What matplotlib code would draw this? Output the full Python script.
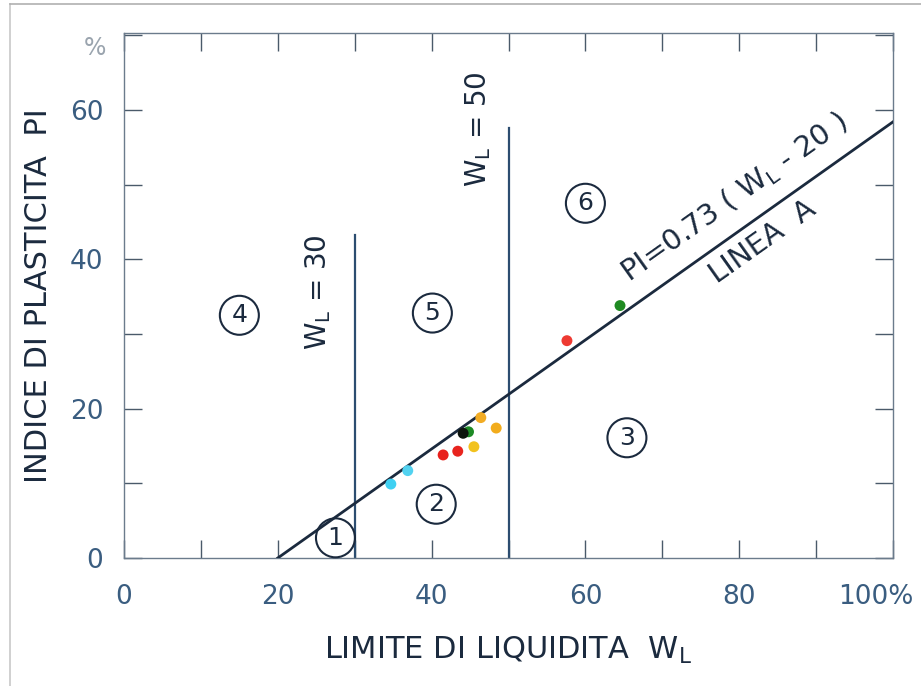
import numpy as np
import matplotlib
matplotlib.use("Agg")
import matplotlib.pyplot as plt
from matplotlib.lines import Line2D
from matplotlib.transforms import ScaledTranslation

plt.rcParams['font.family'] = ['DejaVu Sans']
plt.rcParams['mathtext.default'] = 'regular'

# ---- data ----
aline_x = [20, 100]
aline_slope = 0.73
aline_offset = 20
wl30_top = 43.2
wl50_top = 57.6

pt_x = [34.7, 36.9, 41.5, 43.4, 45.5, 44.8, 44.1, 46.4, 48.4, 57.6, 64.5]
pt_y = [9.9, 11.7, 13.8, 14.3, 14.9, 16.9, 16.7, 18.8, 17.4, 29.1, 33.8]
pt_c = ['#3fd0f2', '#52d2f0', '#e8201c', '#e8241e', '#f2c21e', '#1d8a25',
        '#0c140c', '#f2ac24', '#f2ac1c', '#ee3a32', '#1f8a22']

zone_labels = ['1', '2', '3', '4', '5', '6']
zone_x = [27.5, 40.6, 65.4, 15.0, 40.1, 60.0]
zone_y = [2.7, 7.2, 16.1, 32.5, 32.8, 47.5]

x_ticks = [0, 20, 40, 60, 80, 100]
x_ticklabels = ['0', '20', '40', '60', '80', '100%']
y_ticks = [0, 20, 40, 60]
y_ticklabels = ['0', '20', '40', '60']

navy = '#1b2a3e'
blue = '#2c4d70'
tickc = '#3a5d80'

fig = plt.figure(figsize=(9.21, 6.86), dpi=100)
ax = fig.add_axes([124/921, 1-558/686, (893-124)/921, (558-33)/686])
ax.set_xlim(0, 100)
ax.set_ylim(0, 70.3)

for s in ax.spines.values():
    s.set_color('#6b7b8c')
    s.set_linewidth(1.0)

ax.set_xticks(x_ticks)
ax.set_xticklabels(x_ticklabels)
ax.set_yticks(y_ticks)
ax.set_yticklabels(y_ticklabels)
ax.set_xticks(np.arange(10, 100, 20), minor=True)
ax.set_yticks(np.arange(10, 71, 20), minor=True)
ax.tick_params(which='both', direction='in', top=True, right=True, length=13,
               width=1.0, color='#4a5a6a')
ax.tick_params(axis='x', which='major', labelsize=19, labelcolor=tickc, pad=19)
ax.tick_params(axis='y', which='major', labelsize=19, labelcolor=tickc, pad=15)
last = ax.get_xticklabels()[-1]
last.set_transform(last.get_transform() + ScaledTranslation(-0.17, 0, fig.dpi_scale_trans))

# A-line
ax_x = np.array(aline_x, dtype=float)
ax.plot(ax_x, aline_slope * (ax_x - aline_offset), color=navy, lw=2.0, zorder=3)

# vertical lines
ax.plot([30, 30], [0, wl30_top], color=blue, lw=1.6, zorder=2)
ax.plot([50, 50], [0, wl50_top], color=blue, lw=1.6, zorder=2)

# points
ax.scatter(pt_x, pt_y, c=pt_c, s=62, zorder=4, edgecolors='none')

# zone labels
for lab, zx, zy in zip(zone_labels, zone_x, zone_y):
    ax.text(zx, zy, lab, ha='center', va='center', fontsize=18, color=navy,
            bbox=dict(boxstyle='circle,pad=0.3', fc='none', ec=navy, lw=1.5), zorder=5)

# text labels
ax.text(25.3, 35.6, r'W$_{L}$ = 30', rotation=90, ha='center', va='center',
        fontsize=20, color=navy)
ax.text(46.0, 57.4, r'W$_{L}$ = 50', rotation=90, ha='center', va='center',
        fontsize=20, color=navy)
ang = np.degrees(np.arctan(aline_slope))
ax.text(79.4, 48.3, r'PI=0.73 ( W$_{L}$ - 20 )', rotation=ang, rotation_mode='anchor',
        transform_rotates_text=True, ha='center', va='center', fontsize=21, color=navy)
ax.text(83.1, 42.4, 'LINEA  A', rotation=ang, rotation_mode='anchor',
        transform_rotates_text=True, ha='center', va='center', fontsize=21, color=navy)

ax.text(-3.8, 68.3, '%', ha='center', va='center', fontsize=17, color='#9aa4ae')

ax.set_xlabel(r'LIMITE DI LIQUIDITA  W$_{L}$', fontsize=22, color=navy, labelpad=18)
ax.set_ylabel('INDICE DI PLASTICITA  PI', fontsize=22, color=navy, labelpad=12)

# faint outer frame
fig.add_artist(Line2D([10/921, 10/921], [0, 1-4/686], transform=fig.transFigure,
                      color='#c8c8c8', lw=1.2))
fig.add_artist(Line2D([10/921, 1], [1-4/686, 1-4/686], transform=fig.transFigure,
                      color='#b0b0b0', lw=1.2))

fig.savefig('out.png', dpi=100)
